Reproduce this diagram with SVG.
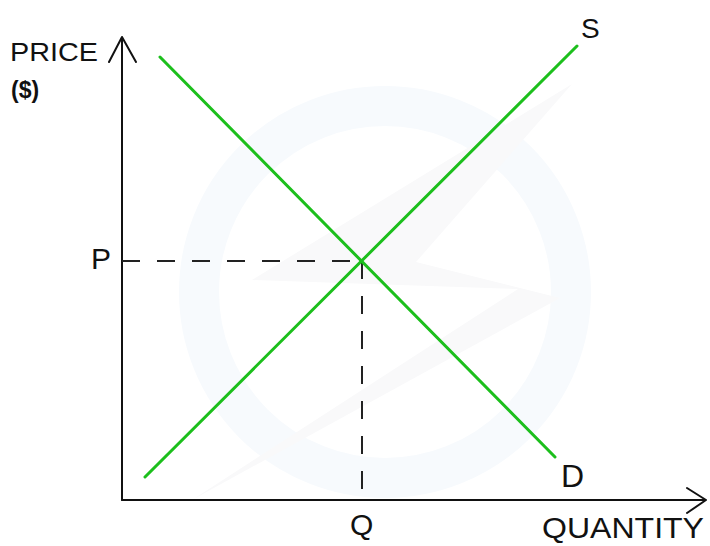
<svg xmlns="http://www.w3.org/2000/svg" width="710" height="546" viewBox="0 0 710 546">
<style>
.ax{stroke:#111;stroke-width:2;fill:none;stroke-linecap:round;stroke-linejoin:round}
.curve{stroke:#1cbf1c;stroke-width:3;fill:none;stroke-linecap:round}
.dash{stroke:#222;stroke-width:2;fill:none;stroke-dasharray:18 17}
.lbl{font-family:"Liberation Sans",Arial,sans-serif;fill:#111}
</style>
<g id="watermark">
<circle cx="385" cy="292" r="186" fill="none" stroke="#f7fafd" stroke-width="40"/>
<path d="M572 84 L252 280 L518 289 L192 500 L560 298 L416 262 Z" fill="#f9f9fa"/>
</g>
<g id="axes">
<path class="ax" d="M122 500 V37 M109 62 L122 37 L136 62"/>
<path class="ax" d="M122 500 H706 M687 488 L706 500 L687 513"/>
</g>
<g id="connectors">
<path class="dash" d="M122 261 H362"/>
<path class="dash" d="M362 261 V500"/>
</g>
<g id="demand"><path class="curve" d="M160 57 L555 457"/></g>
<g id="supply"><path class="curve" d="M145 477 L577 46"/></g>
<g id="labels">
<text class="lbl" x="10" y="61" font-size="25" textLength="88" lengthAdjust="spacingAndGlyphs">PRICE</text>
<text class="lbl" x="11" y="98" font-size="23" font-weight="bold">($)</text>
<text class="lbl" x="91" y="269" font-size="30">P</text>
<text class="lbl" x="581" y="38" font-size="28">S</text>
<text class="lbl" x="561" y="487" font-size="32">D</text>
<text class="lbl" x="350" y="535" font-size="30">Q</text>
<text class="lbl" x="542" y="538" font-size="29" textLength="162" lengthAdjust="spacingAndGlyphs">QUANTITY</text>
</g>
</svg>
